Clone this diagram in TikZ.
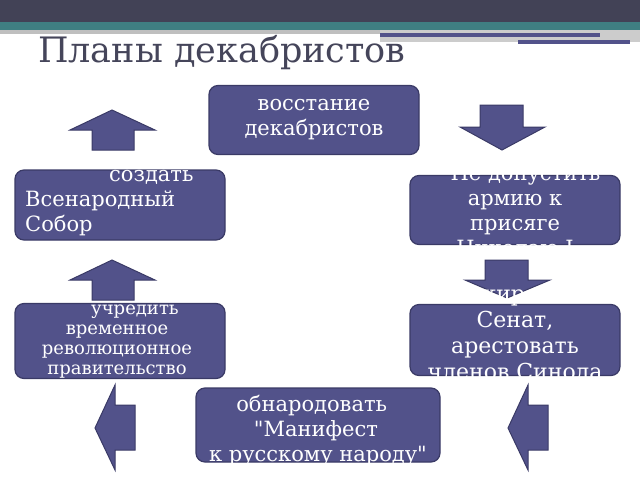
\documentclass[tikz,border=0pt]{standalone}
\usepackage{fontspec}
\setmainfont{DejaVu Serif}[Ligatures=TeXOff]
\definecolor{boxf}{HTML}{52528A}
\definecolor{boxd}{HTML}{3A3A66}
\definecolor{band}{HTML}{424256}
\definecolor{teal}{HTML}{3F7F82}
\definecolor{ttl}{HTML}{45455A}
\begin{document}
\begin{tikzpicture}[x=1pt,y=-1pt,
  bx/.style={fill=boxf,draw=boxd,line width=1.2pt,rounded corners=9pt},
  ar/.style={fill=boxf,draw=boxd,line width=1pt},
  tx/.style={text=white,align=center,font=\fontsize{21}{25}\selectfont,inner sep=0pt}]
\useasboundingbox (0,0) rectangle (640,480);
\fill[band] (0,0) rectangle (640,22);
\fill[teal] (0,22) rectangle (640,30);
\fill[gray!50] (0,30) rectangle (380,34);
\fill[gray!40] (380,30) rectangle (640,42);
\fill[boxf] (380,33) rectangle (600,37);
\fill[boxf] (518,40) rectangle (630,44);
\fill[white] (0,34) rectangle (380,40);
\node[text=ttl,font=\fontsize{35}{35}\selectfont,anchor=base west,inner sep=0pt] (title) at (38,62) {Планы декабристов};
% boxes
\node[bx,minimum width=210,minimum height=69] (b1) at (314,120) {};
\node[bx,minimum width=210,minimum height=70] (b2) at (120,205) {};
\node[bx,minimum width=210,minimum height=69] (b3) at (515,210) {};
\node[bx,minimum width=210,minimum height=75] (b4) at (120,341) {};
\node[bx,minimum width=210,minimum height=71] (b5) at (515,340) {};
\node[bx,minimum width=244,minimum height=74] (b6) at (318,425) {};
% arrows
\draw[ar] (92,150)--(92,130)--(70,130)--(112,110)--(155,130)--(134,130)--(134,150)--cycle;
\draw[ar] (92,300)--(92,280)--(70,280)--(112,260)--(155,280)--(134,280)--(134,300)--cycle;
\draw[ar] (480,105)--(523,105)--(523,127)--(545,127)--(502,150)--(460,127)--(480,127)--cycle;
\draw[ar] (485,260)--(528,260)--(528,280)--(550,280)--(507,298)--(465,280)--(485,280)--cycle;
\draw[ar] (135,405)--(115,405)--(115,385)--(95,428)--(115,470)--(115,450)--(135,450)--cycle;
\draw[ar] (548,405)--(528,405)--(528,385)--(508,428)--(528,470)--(528,450)--(548,450)--cycle;
% texts
\node[tx] (t1) at (314,120) {восстание\\декабристов};
\node[tx,align=left,anchor=north west] (t2) at (25,170) {\hspace{4em}создать\\Всенародный\\Собор};
\node[tx] (t3) at (515,210) {\hspace{1em}Не допустить\\армию к\\присяге\\Николаю I};
\node[tx,font=\fontsize{18}{20}\selectfont] (t4) at (117,342) {\hspace{2em}учредить\\временное\\революционное\\правительство};
\node[tx,font=\fontsize{22}{26}\selectfont] (t5) at (515,333) {блокировать\\Сенат,\\арестовать\\членов Синода};
\node[tx] (t6) at (318,431) {\hspace{-0.6em}обнародовать\\\hspace{-0.2em}"Манифест\\к русскому народу"};
\end{tikzpicture}
\end{document}
